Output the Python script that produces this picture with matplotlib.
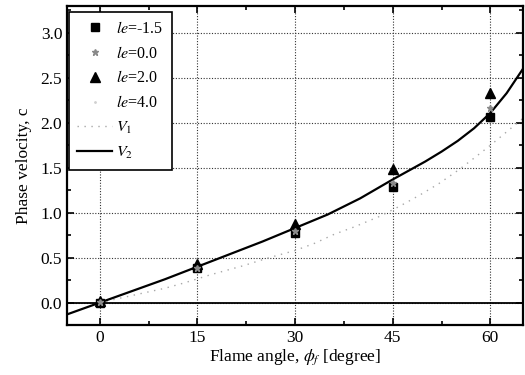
import matplotlib
matplotlib.use("Agg")
import matplotlib.pyplot as plt
from matplotlib.ticker import MultipleLocator

plt.rcParams["font.family"] = ["Liberation Serif", "DejaVu Serif"]
plt.rcParams["mathtext.fontset"] = "stix"

# measured points (flame angle in degree -> phase velocity)
angle = [0, 15, 30, 45, 60]
le_m15 = [0.00, 0.38, 0.78, 1.29, 2.07]
le_0 = [0.01, 0.39, 0.80, 1.33, 2.16]
le_2 = [0.02, 0.43, 0.88, 1.49, 2.33]
le_4 = [0.00, 0.36, 0.74, 1.25, 2.02]

# theory curves
v1_angle = [0, 5, 10, 13, 17, 22, 26, 30, 33, 36, 39, 43, 46, 49, 52, 55, 57, 60, 62, 65]
v1_val = [0.00, 0.08, 0.16, 0.22, 0.31, 0.41, 0.50, 0.58, 0.66, 0.76, 0.84, 0.96, 1.07, 1.19, 1.32, 1.47, 1.58, 1.75, 1.87, 2.05]
v2_angle = [-5, 0, 5, 10, 15, 20, 25, 30, 35, 40, 45, 47.5, 50, 52.5, 55, 57.5, 60, 62.5, 65]
v2_val = [-0.13, 0.00, 0.13, 0.26, 0.40, 0.54, 0.68, 0.83, 0.98, 1.16, 1.37, 1.47, 1.57, 1.68, 1.80, 1.94, 2.11, 2.33, 2.60]

fig = plt.figure(figsize=(5.25, 3.75), dpi=100)
ax = fig.add_axes([0.128, 0.133, 0.868, 0.851])

ax.plot(angle, le_m15, "s", color="black", ms=6, label=r"$le$=-1.5", zorder=4)
ax.plot(angle, le_0, "*", color="#8a8a8a", ms=5, label=r"$le$=0.0", zorder=5)
ax.plot(angle, le_2, "^", color="black", ms=7, label=r"$le$=2.0", zorder=4)
ax.plot(angle, le_4, ".", color="#d0d0d0", ms=2, label=r"$le$=4.0", zorder=3)
ax.plot(v1_angle, v1_val, linestyle=(0, (1, 4)), color="#a8a8a8", lw=1.0, label=r"$V_1$")
ax.plot(v2_angle, v2_val, "-", color="black", lw=1.6, label=r"$V_2$")

ax.axhline(0, color="black", lw=1.3, zorder=2)

ax.set_xlim(-5, 65)
ax.set_ylim(-0.25, 3.3)
ax.xaxis.set_major_locator(MultipleLocator(15))
ax.xaxis.set_minor_locator(MultipleLocator(7.5))
ax.yaxis.set_major_locator(MultipleLocator(0.5))
ax.yaxis.set_minor_locator(MultipleLocator(0.25))
ax.grid(True, which="major", color="#333333", linestyle=(0, (1, 1.5)), lw=0.8)
ax.set_axisbelow(True)

ax.tick_params(which="both", direction="in", top=True, right=True, labelsize=12.5, width=1.2)
ax.tick_params(which="major", length=5)
ax.tick_params(which="minor", length=3)
for s in ax.spines.values():
    s.set_linewidth(1.6)

ax.set_xlabel(r"Flame angle, $\phi_f$ [degree]", fontsize=12.5, labelpad=1)
ax.set_ylabel("Phase velocity, c", fontsize=12.5, labelpad=6)

leg = ax.legend(loc="upper left", bbox_to_anchor=(0.003, 0.981), fontsize=11.5,
                frameon=True, fancybox=False, edgecolor="black", framealpha=1,
                handlelength=2.2, handletextpad=0.2, borderaxespad=0,
                labelspacing=0.55, borderpad=0.55)
leg.get_frame().set_linewidth(1.2)

fig.savefig("out.png", dpi=100)
